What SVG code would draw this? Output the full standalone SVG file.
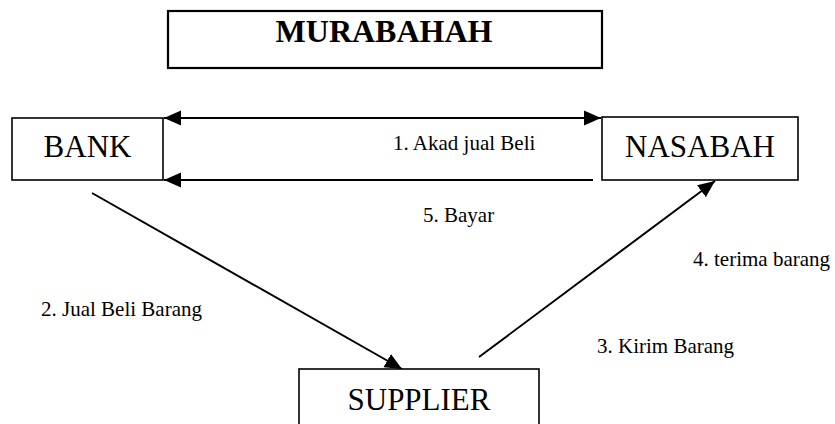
<svg xmlns="http://www.w3.org/2000/svg" width="835" height="424" viewBox="0 0 835 424">
<style>
.box{fill:#fff;stroke:#000;stroke-width:1.6}
.title{fill:#fff;stroke:#000;stroke-width:2.2}
.node{font-family:"Liberation Serif","Times New Roman",serif;font-size:31px;fill:#000;text-anchor:middle}
.lbl{font-family:"Liberation Serif","Times New Roman",serif;font-size:21px;fill:#000}
.conn{stroke:#000;stroke-width:2;fill:none}
</style>
<defs>
<marker id="ah" markerUnits="userSpaceOnUse" markerWidth="18" markerHeight="16" refX="17" refY="8" orient="auto">
<path d="M0,0.5 L17,8 L0,15.5 z" fill="#000"/>
</marker>
<marker id="ahs" markerUnits="userSpaceOnUse" markerWidth="18" markerHeight="16" refX="17" refY="8" orient="auto-start-reverse">
<path d="M0,0.5 L17,8 L0,15.5 z" fill="#000"/>
</marker>
</defs>
<g id="title">
<rect class="title" x="168" y="11" width="434" height="57"/>
<text x="384" y="42" font-family="Liberation Serif,'Times New Roman',serif" font-size="32" font-weight="bold" text-anchor="middle">MURABAHAH</text>
</g>
<g id="connectors">
<line class="conn" x1="164" y1="118" x2="601" y2="118" marker-start="url(#ahs)" marker-end="url(#ah)"/>
<line class="conn" x1="593" y1="180" x2="164" y2="180" marker-end="url(#ah)"/>
<line class="conn" x1="92" y1="193" x2="402" y2="369" marker-end="url(#ah)"/>
<line class="conn" x1="479" y1="357" x2="715" y2="181" marker-end="url(#ah)"/>
<text class="lbl" x="393" y="150">1. Akad jual Beli</text>
<text class="lbl" x="423" y="222">5. Bayar</text>
<text class="lbl" x="41" y="316">2. Jual Beli Barang</text>
<text class="lbl" x="597" y="353">3. Kirim Barang</text>
<text class="lbl" x="693" y="266">4. terima barang</text>
</g>
<g id="bank">
<rect class="box" x="12" y="118" width="151" height="62"/>
<text class="node" x="87.5" y="157">BANK</text>
</g>
<g id="nasabah">
<rect class="box" x="602" y="117" width="196" height="63"/>
<text class="node" x="700" y="157">NASABAH</text>
</g>
<g id="supplier">
<rect class="box" x="299" y="369" width="240" height="70"/>
<text class="node" x="419" y="410">SUPPLIER</text>
</g>
</svg>
